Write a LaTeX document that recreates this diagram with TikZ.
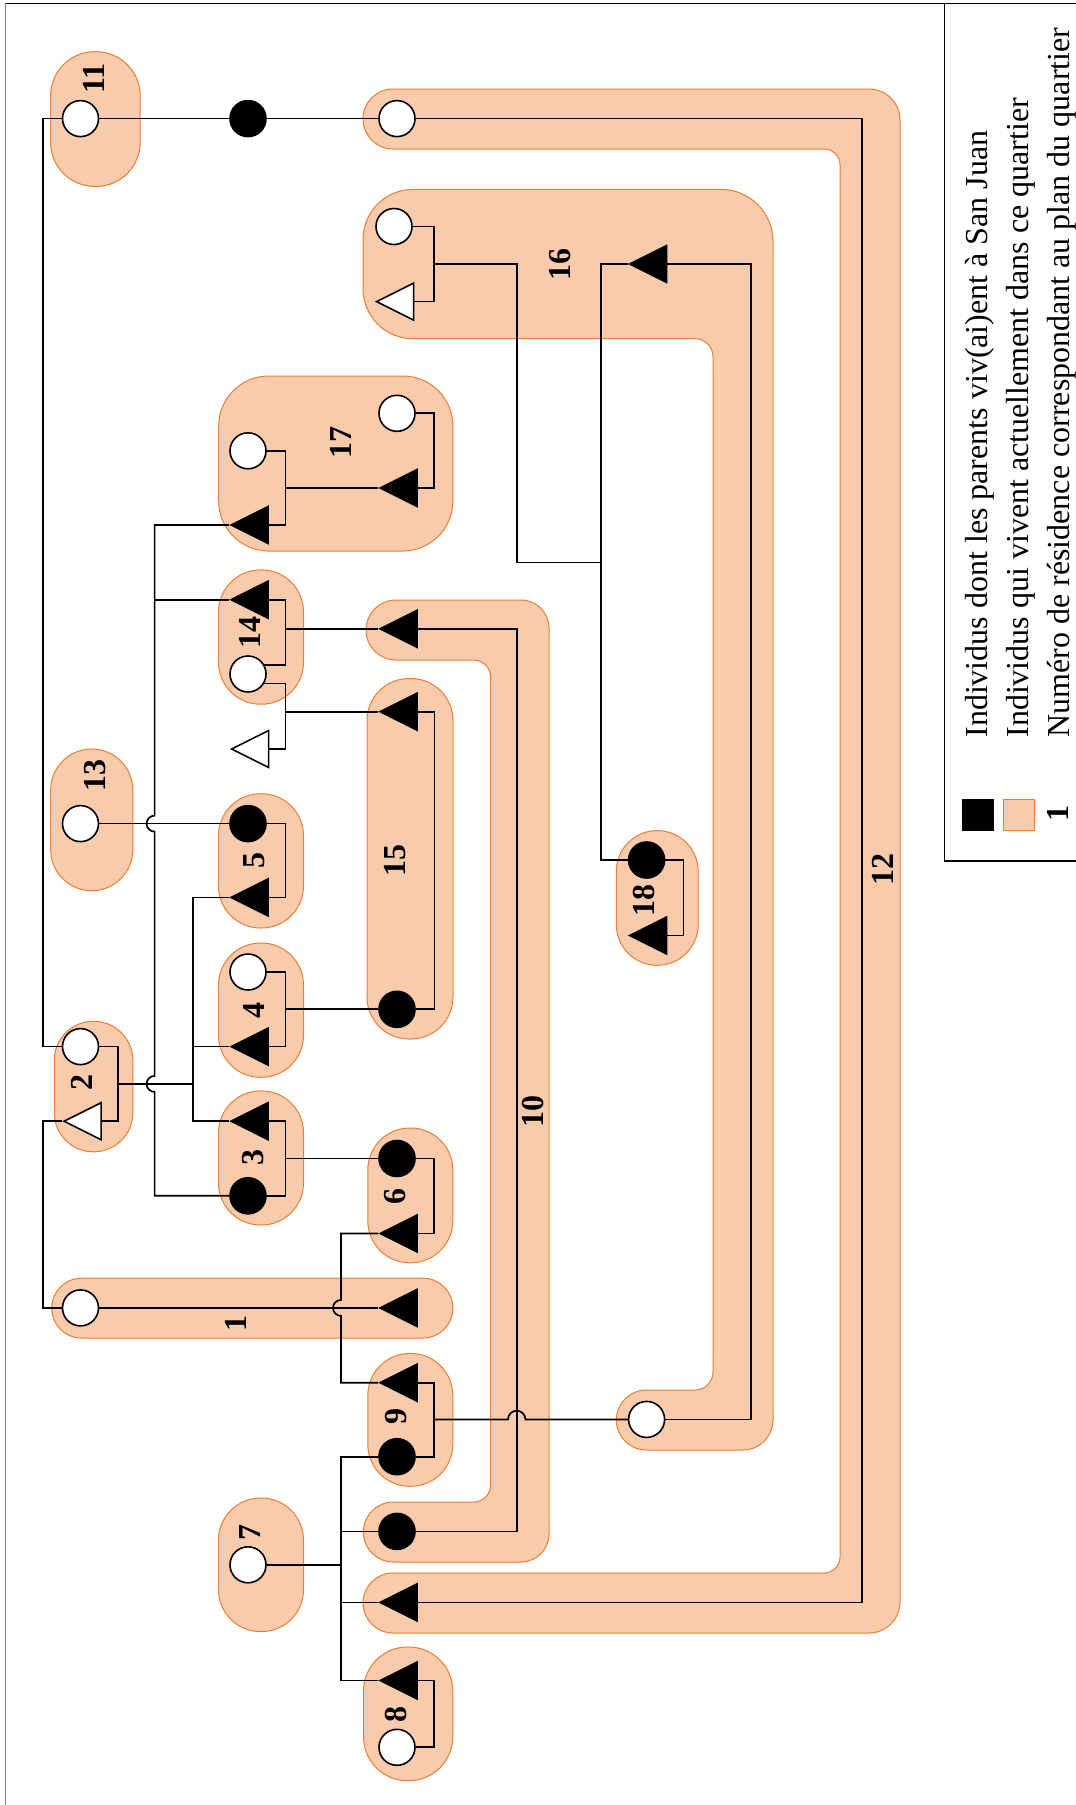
\documentclass[tikz,border=0pt]{standalone}
\usepackage{fontspec}
\setmainfont{Liberation Serif}
\usetikzlibrary{shapes.geometric}
\definecolor{peach}{HTML}{F8CBAD}
\definecolor{rim}{HTML}{ED7D31}

\begin{document}
\begin{tikzpicture}[
  x=0.5pt, y=-0.5pt,
  fem/.style  = {circle, draw, fill=white, line width=0.8pt,
                 minimum size=18pt, inner sep=0pt},
  femk/.style = {fem, fill=black},
  mal/.style  = {isosceles triangle, isosceles triangle stretches,
                 shape border rotate=180, draw, fill=white, line width=0.8pt,
                 minimum width=18.5pt, minimum height=18.5pt, inner sep=0pt,
                 anchor=apex},
  malk/.style = {mal, fill=black},
  res/.style  = {fill=peach, draw=rim, line width=0.5pt},
  lnk/.style  = {line width=0.85pt},
  num/.style  = {font=\fontsize{16}{18}\selectfont\bfseries, rotate=90, inner sep=0pt},
  leg/.style  = {font=\fontsize{16}{18}\selectfont, rotate=90, anchor=base west, inner sep=0pt},
]
\useasboundingbox (0,0) rectangle (1076,1805);

% ---- frame and legend box ----
\draw[gray, line width=0.7pt] (5.7,1805) -- (5.7,3.3);
\draw[line width=0.6pt] (5.7,3.3) -- (1076,3.3);
\draw[line width=0.6pt] (944.3,3.3) -- (944.3,861) -- (1076,861);

% ---- residences (bands) ----
\draw[res] (393,89) -- (869,89) arc[start angle=270,end angle=360,radius=31]
  -- (900,1602) arc[start angle=0,end angle=90,radius=31]
  -- (393,1633) arc[start angle=90,end angle=270,radius=30]
  -- (824,1573) arc[start angle=90,end angle=0,radius=16]
  -- (840,165) arc[start angle=0,end angle=-90,radius=16]
  -- (393,149) arc[start angle=90,end angle=270,radius=30] -- cycle;
\draw[res] (413,189.4) -- (721,189.4) arc[start angle=270,end angle=360,radius=52]
  -- (773,1420) arc[start angle=0,end angle=90,radius=30]
  -- (646.3,1450) arc[start angle=90,end angle=270,radius=30]
  -- (695,1390) arc[start angle=90,end angle=0,radius=18]
  -- (713,356.7) arc[start angle=0,end angle=-90,radius=18]
  -- (413,338.7) arc[start angle=90,end angle=180,radius=50]
  -- (363,239.4) arc[start angle=180,end angle=270,radius=50] -- cycle;
\draw[res] (396,600) -- (521,600) arc[start angle=270,end angle=360,radius=28]
  -- (549,1534) arc[start angle=0,end angle=90,radius=28]
  -- (393.3,1562) arc[start angle=90,end angle=270,radius=30]
  -- (473.6,1502) arc[start angle=90,end angle=0,radius=17]
  -- (490.6,677) arc[start angle=0,end angle=-90,radius=17]
  -- (396,660) arc[start angle=90,end angle=270,radius=30] -- cycle;

% ---- residences (blobs) ----
\draw[res, rounded corners=22pt]   (50.6,51.7) rectangle (140.2,186.4);
\draw[res, rounded corners=20.5pt] (50.7,749) rectangle (132.8,890.7);
\draw[res, rounded corners=19.5pt] (54.3,1021.3) rectangle (132.8,1151.8);
\draw[res, rounded corners=21pt]   (218.5,569.9) rectangle (303.5,704.2);
\draw[res, rounded corners=21pt]   (218.5,793.7) rectangle (303.5,928);
\draw[res, rounded corners=21pt]   (218.5,943) rectangle (303.5,1077.3);
\draw[res, rounded corners=21pt]   (218.5,1090.9) rectangle (303.5,1225);
\draw[res, rounded corners=21pt]   (218.5,1498) rectangle (303.5,1631.6);
\draw[res, rounded corners=25pt]   (218.7,376) rectangle (452.9,551);
\draw[res, rounded corners=21pt]   (367,678.5) rectangle (453,1039);
\draw[res, rounded corners=21pt]   (367.8,1128) rectangle (452.8,1262.8);
\draw[res, rounded corners=21pt]   (367.8,1353.4) rectangle (452.8,1486.3);
\draw[res, rounded corners=22pt]   (363.5,1647) rectangle (452.8,1780.7);
\draw[res, rounded corners=14.8pt] (51.8,1278.2) rectangle (452.8,1338);
\draw[res, rounded corners=20.4pt] (616.3,830.6) rectangle (698.2,965.3);

% ---- individuals ----
\node[fem]  (c11)  at (80.5,118.6) {};
\node[femk] (b0)   at (248,118.6) {};
\node[fem]  (c12)  at (397,118.6) {};
\node[fem]  (c16)  at (394,226.5) {};
\node[mal]  (w16)  at (374.5,301.6) {};
\node[malk] (t16)  at (627.6,264) {};
\node[fem]  (c17b) at (397,413.3) {};
\node[fem]  (c17a) at (248,450.8) {};
\node[malk] (t17b) at (378,488) {};
\node[malk] (t17a) at (229,525) {};
\node[malk] (t14)  at (229,599.7) {};
\node[malk] (t10)  at (378,628.8) {};
\node[fem]  (c14)  at (248,674) {};
\node[malk] (t15)  at (378,711.7) {};
\node[mal]  (w14)  at (229.5,749) {};
\node[fem]  (c13)  at (80.5,823.6) {};
\node[femk] (b5)   at (248,823.6) {};
\node[femk] (b18)  at (646.6,860) {};
\node[malk] (t5)   at (229,897.4) {};
\node[malk] (t18)  at (627.6,935.5) {};
\node[fem]  (c4)   at (248,972) {};
\node[femk] (b15)  at (397,1009.3) {};
\node[fem]  (c2)   at (80.5,1046.6) {};
\node[malk] (t4)   at (229,1046.6) {};
\node[mal]  (w2)   at (62,1121.2) {};
\node[malk] (t3)   at (229,1121.2) {};
\node[femk] (b6)   at (397,1158.5) {};
\node[femk] (b3)   at (248,1195.8) {};
\node[malk] (t6)   at (378,1233.5) {};
\node[fem]  (c1)   at (80.5,1307.9) {};
\node[malk] (t1)   at (378,1307.9) {};
\node[malk] (t9)   at (378,1382.7) {};
\node[fem]  (c16b) at (646.6,1419.4) {};
\node[femk] (b9)   at (397,1456.7) {};
\node[femk] (b10)  at (397,1531.4) {};
\node[fem]  (c7)   at (248,1564.8) {};
\node[malk] (t12)  at (378,1602.4) {};
\node[malk] (t8)   at (378,1680.5) {};
\node[fem]  (c8)   at (397,1747.3) {};

% ---- bend points ----
\coordinate (k16)  at (434,264);
\coordinate (k17a) at (285.5,488);
\coordinate (k17b) at (434,450.6);
\coordinate (k14)  at (285.5,628.8);
\coordinate (k14b) at (285.5,711.7);
\coordinate (k5)   at (285.5,860.5);
\coordinate (k4)   at (285.5,1009.3);
\coordinate (k2)   at (118,1083.9);
\coordinate (k3)   at (285.5,1158.5);
\coordinate (k6)   at (434,1196);
\coordinate (k15)  at (434.4,860);
\coordinate (k18)  at (683.5,897.7);
\coordinate (k9)   at (434.3,1419.4);
\coordinate (k8)   at (434,1714);
\coordinate (s2)   at (192.8,1083.9);
\coordinate (s17)  at (154.6,525);
\coordinate (s16)  at (601.3,562.6);
\coordinate (s7)   at (341,1564.8);
\coordinate (r12)  at (862.3,860);
\coordinate (r16)  at (750.8,860);
\coordinate (r10)  at (516.7,1000);
\coordinate (l2)   at (43,600);
\coordinate (l1)   at (43,1200);

% ---- couples ----
\draw[lnk] (c16.east) -| (k16) |- (w16.lower side);
\draw[lnk] (c17a.east) -| (k17a) |- (t17a.lower side);
\draw[lnk] (c17b.east) -| (k17b) |- (t17b.lower side);
\draw[lnk] (t14.lower side) -| (k14) |- (c14.29);
\draw[lnk] (c14.-30) -| (k14b) |- (w14.lower side);
\draw[lnk] (b5.east) -| (k5) |- (t5.lower side);
\draw[lnk] (c4.east) -| (k4) |- (t4.lower side);
\draw[lnk] (c2.east) -| (k2) |- (w2.lower side);
\draw[lnk] (t3.lower side) -| (k3) |- (b3.east);
\draw[lnk] (b6.east) -| (k6) |- (t6.lower side);
\draw[lnk] (t15.lower side) -| (k15) |- (b15.east);
\draw[lnk] (b18.east) -| (k18) |- (t18.lower side);
\draw[lnk] (t9.lower side) -| (k9) |- (b9.east);
\draw[lnk] (t8.lower side) -| (k8) |- (c8.east);
\draw[lnk] (c11.east) -- (b0.west);
\draw[lnk] (b0.east) -- (c12.west);
\draw[lnk] (c12.east) -| (r12) |- (t12.lower side);
\draw[lnk] (c11.west) -| (l2) |- (c2.west);
\draw[lnk] (w2.apex) -| (l1) |- (c1.west);
\draw[lnk] (c1.east) -- (t1.apex);
\draw[lnk] (t16.lower side) -| (r16) |- (c16b.east);
\draw[lnk] (t10.lower side) -| (r10) |- (b10.east);
\draw[lnk] (c13.east) -- (b5.west);

% ---- children ----
\draw[lnk] (k17a) -- (t17b.apex);
\draw[lnk] (k14) -- (t10.apex);
\draw[lnk] (k14b) -- (t15.apex);
\draw[lnk] (k4) -- (b15.west);
\draw[lnk] (k3) -- (b6.west);
\draw[lnk] (k2) -- (s2);
\draw[lnk] (t5.apex) -| (s2) |- (t3.apex);
\draw[lnk] (s2 |- t4.apex) -- (t4.apex);
\draw[lnk] (k16) -| (516.7,562.6) -- (s16);
\draw[lnk] (t16.apex) -| (s16) |- (b18.west);
\draw[lnk] (k9) -- (508,1419.4) arc[start angle=180,end angle=360,radius=8.7] -- (c16b.west);
\draw[lnk] (t17a.apex) -- (s17) -- (154.6,815.6) arc[start angle=270,end angle=90,radius=8]
  -- (154.6,1075.9) arc[start angle=270,end angle=90,radius=8] |- (b3.west);
\draw[lnk] (s17 |- t14.apex) -- (t14.apex);
\draw[lnk] (t6.apex) -| (341,1299.9) arc[start angle=270,end angle=90,radius=8] |- (t9.apex);
\draw[lnk] (b9.west) -| (s7) |- (t8.apex);
\draw[lnk] (c7.east) -- (s7);
\draw[lnk] (s7 |- b10.west) -- (b10.west);
\draw[lnk] (s7 |- t12.apex) -- (t12.apex);

% ---- residence numbers ----
\node[num] (n11) at (93.7,78.5) {11};
\node[num] (n12) at (883.2,869) {12};
\node[num] (n16) at (559.8,264) {16};
\node[num] (n17) at (341,442.8) {17};
\node[num] (n14) at (250,632.9) {14};
\node[num] (n10) at (533.3,1111.6) {10};
\node[num] (n15) at (394.9,860) {15};
\node[num] (n18) at (644,900.3) {18};
\node[num] (n13) at (94.6,775.9) {13};
\node[num] (n5)  at (254,860) {5};
\node[num] (n4)  at (254,1010) {4};
\node[num] (n2)  at (82,1082.6) {2};
\node[num] (n3)  at (253.5,1157) {3};
\node[num] (n6)  at (394.6,1196) {6};
\node[num] (n1)  at (235.7,1323.3) {1};
\node[num] (n9)  at (395.7,1416) {9};
\node[num] (n7)  at (250,1532.2) {7};
\node[num] (n8)  at (396.4,1714) {8};

% ---- legend ----
\node[fill=black, minimum size=16pt, inner sep=0pt] (keyk) at (978,815) {};
\node[res, minimum size=15.5pt, inner sep=0pt] (keyr) at (1019,815) {};
\node[num] (key1) at (1058,813) {1};
\node[leg] (txtk) at (987,738) {Individus dont les parents viv(ai)ent à San Juan};
\node[leg] (txtr) at (1028,738) {Individus qui vivent actuellement dans ce quartier};
\node[leg] (txt1) at (1069,738) {Numéro de résidence correspondant au plan du quartier};

\end{tikzpicture}
\end{document}
